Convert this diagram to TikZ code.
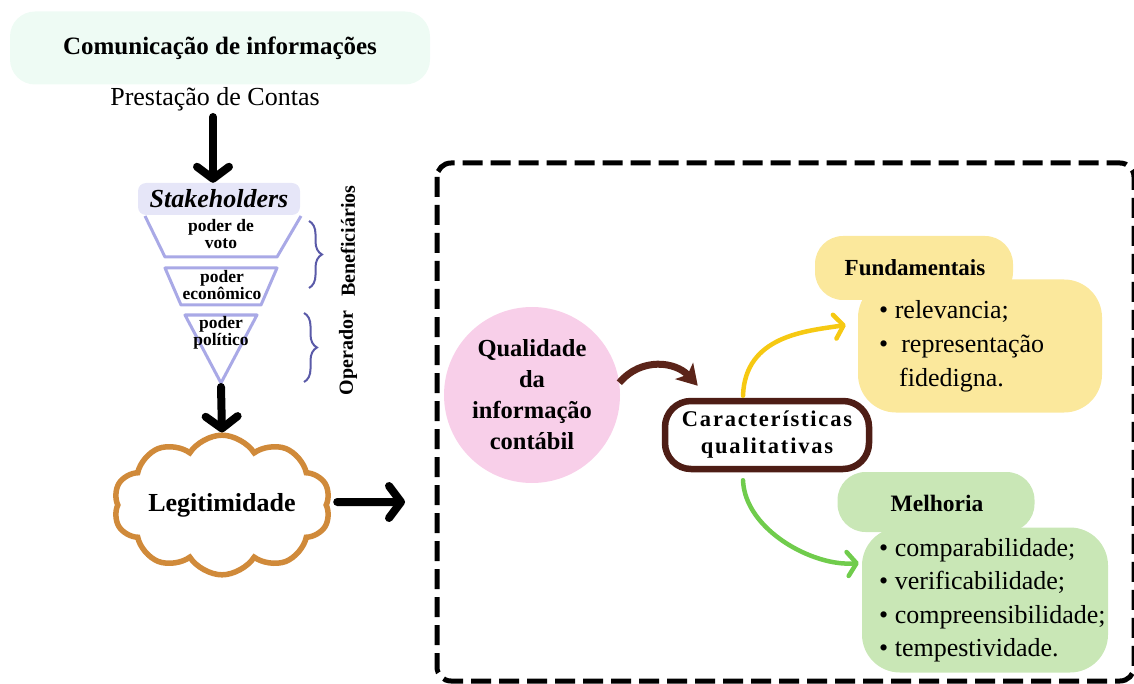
\documentclass[tikz,border=0pt]{standalone}
\usepackage{fontspec}
\setmainfont{Liberation Serif}
\newfontfamily\spacedserif[LetterSpace=8]{Liberation Serif}
\usetikzlibrary{arrows.meta,shapes.symbols,decorations.pathreplacing,calc}
\definecolor{mintc}{HTML}{EEFBF4}
\definecolor{lavc}{HTML}{E6E6F8}
\definecolor{funnelc}{HTML}{A9A9E6}
\definecolor{bracec}{HTML}{5A5AA8}
\definecolor{cloudc}{HTML}{D08A3A}
\definecolor{pinkc}{HTML}{F8CFE9}
\definecolor{brownc}{HTML}{4E1D15}
\definecolor{brownarr}{HTML}{5B2419}
\definecolor{yellowc}{HTML}{FBE89C}
\definecolor{yellowarr}{HTML}{F6C912}
\definecolor{greenc}{HTML}{C9E7B6}
\definecolor{greenarr}{HTML}{70CC4C}
\begin{document}
\begin{tikzpicture}[x=1pt,y=-1pt,
  blackarrow/.style={line width=8pt, line cap=round, line join=round, -{Straight Barb[length=12pt,width=32pt,round]}},
  colorarrow/.style={line width=4.5pt, line cap=round, -{Straight Barb[length=9pt,width=24pt,round]}},
  funnelline/.style={draw=funnelc, line width=3pt, line join=round},
  bracestyle/.style={draw=bracec, line width=2pt, decorate, decoration={brace, amplitude=13pt}},
  tabbox/.style={rounded corners=28pt, inner sep=0pt},
  bodybox/.style={rounded corners=38pt, inner sep=0pt},
  smalltext/.style={font=\fontsize{17.5}{16.5}\selectfont\bfseries, align=center, inner sep=0pt},
  sidetext/.style={font=\fontsize{20}{24}\selectfont\bfseries, rotate=90, inner sep=0pt},
  listtext/.style={font=\fontsize{26}{34}\selectfont, align=left, anchor=west, inner sep=0pt}
]
\useasboundingbox (0,0) rectangle (1134,684);
\clip (0,0) rectangle (1134,684);

% ---- left column ----
\node[fill=mintc, rounded corners=25pt, minimum width=420pt, minimum height=73pt,
      font=\fontsize{25}{30}\selectfont\bfseries] (title) at (220,48) {Comunicação de informações};
\node[font=\fontsize{26}{30}\selectfont, inner sep=2pt] (prest) at (215,99) {Prestação de Contas};
\node[fill=lavc, rounded corners=8pt, minimum width=162pt, minimum height=32pt, inner sep=0pt,
      font=\fontsize{26}{30}\selectfont\bfseries\itshape] (stake) at (219,199) {Stakeholders};
\draw[blackarrow] (prest.south) ++(-2,4) coordinate (a1) -- (a1 |- stake.north) ;

% funnel
\draw[funnelline] (145,216) -- (165,257) -- (277,257) -- (301,216);
\draw[funnelline] (165,268) -- (277,268) -- (261,305) -- (181,305) -- cycle;
\draw[funnelline] (185,315) -- (257,315) -- (221,383) -- cycle;
\coordinate (apex) at (221,387);
\node[smalltext] (voto) at (221,234) {poder de\\voto};
\node[smalltext] (econ) at (222,285) {poder\\econômico};
\node[smalltext] (polit) at (221,333) {poder\\político};

% braces
\draw[bracestyle] (309,221) -- (309,288);
\draw[bracestyle] (304,313) -- (304,382);
\node[sidetext] (benef) at (348,241) {Beneficiários};
\node[sidetext] (oper) at (348,353) {Operador};

% cloud
\node[cloud, cloud puffs=10, cloud puff arc=115, aspect=1.9, draw=cloudc, line width=5.5pt, fill=white,
      minimum width=205pt, minimum height=110pt, inner sep=0pt,
      font=\fontsize{26}{30}\selectfont\bfseries] (legit) at (222,505) {Legitimidade};
\draw[blackarrow] (apex) -- (legit.north);
\coordinate (boxin) at (405,502);
\draw[blackarrow] (legit.east) ++(8,-3) -- (boxin);

% ---- dashed frame ----
\draw[line width=5pt, dash pattern=on 20pt off 8pt, rounded corners=14pt] (437,163) rectangle (1134,681);

% quality circle
\node[circle, fill=pinkc, minimum size=176pt, inner sep=0pt, align=center,
      font=\fontsize{24.5}{31}\selectfont\bfseries] (qual) at (532,395) {Qualidade\\da\\informação\\contábil};

% characteristics
\node[draw=brownc, line width=6.5pt, rounded corners=26pt, fill=white, minimum width=204pt, minimum height=68pt,
      inner sep=0pt, align=center, font=\fontsize{22.5}{27}\spacedserif\bfseries] (carac) at (767,435) {Características\\qualitativas};

\draw[brownarr, line width=7pt, -{Stealth[length=20pt,width=24pt,inset=5pt]}]
  (qual.8) .. controls +(22,-26) and +(-22,-24) .. ($(carac.north west)+(36,-12)$);

% Fundamentais
\node[fill=yellowc, tabbox, minimum width=198pt, minimum height=64pt] (fundtab) at (914,268) {};
\node[fill=yellowc, bodybox, minimum width=244pt, minimum height=133pt] (fundbody) at (980,346) {};
\node[font=\fontsize{23}{28}\selectfont\bfseries] (fundtitle) at (915,268) {Fundamentais};
\node[listtext] (fundlist) at (879,346) {• relevancia;\\•\ \ representação\\\hspace{20pt}fidedigna.};

% Melhoria
\node[fill=greenc, tabbox, minimum width=197pt, minimum height=60pt] (meltab) at (936,502) {};
\node[fill=greenc, bodybox, minimum width=246pt, minimum height=145pt] (melbody) at (985,600) {};
\node[font=\fontsize{23.5}{28}\selectfont\bfseries] (meltitle) at (937,503) {Melhoria};
\node[listtext, font=\fontsize{26}{33.5}\selectfont] (mellist) at (879,600) {• comparabilidade;\\• verificabilidade;\\• compreensibilidade;\\• tempestividade.};

% colour arrows
\draw[yellowarr, colorarrow] ($(carac.north)+(-24,-2)$) .. controls +(2,-60) and +(-40,6) .. ($(fundbody.west)+(-12,-21)$);
\draw[greenarr, colorarrow] ($(carac.south)+(-24,8)$) .. controls +(2,50) and +(-45,4) .. ($(melbody.west)+(-3,-37)$);
\end{tikzpicture}
\end{document}
